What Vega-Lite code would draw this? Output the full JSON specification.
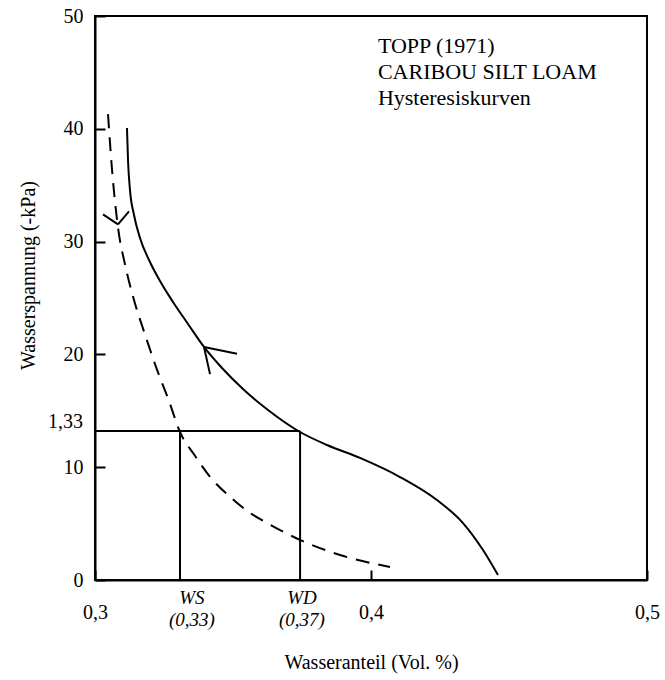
{
  "$schema": "https://vega.github.io/schema/vega-lite/v6.json",
  "autosize": {"type": "none"},
  "width": 552,
  "height": 564,
  "padding": {"left": 95, "top": 16, "right": 18, "bottom": 100},
  "background": "white",
  "config": {
    "view": {"stroke": "black", "strokeWidth": 2},
    "font": "Liberation Serif",
    "axis": {
      "domainColor": "black",
      "domainWidth": 2,
      "tickColor": "black",
      "tickWidth": 2,
      "tickSize": -10,
      "grid": false,
      "labelFont": "Liberation Serif",
      "labelFontSize": 20,
      "labelColor": "black",
      "titleFont": "Liberation Serif",
      "titleFontSize": 20,
      "titleFontWeight": "normal",
      "titleColor": "black",
      "labelFlush": false
    }
  },
  "datasets": {
    "solid": [
      {"x": 0.31159, "y": 40.07, "o": 1},
      {"x": 0.31196, "y": 37.23, "o": 2},
      {"x": 0.31268, "y": 34.57, "o": 3},
      {"x": 0.31413, "y": 32.36, "o": 4},
      {"x": 0.31630, "y": 30.32, "o": 5},
      {"x": 0.31957, "y": 28.37, "o": 6},
      {"x": 0.32355, "y": 26.51, "o": 7},
      {"x": 0.32826, "y": 24.65, "o": 8},
      {"x": 0.33370, "y": 22.70, "o": 9},
      {"x": 0.33949, "y": 20.66, "o": 10},
      {"x": 0.34601, "y": 18.79, "o": 11},
      {"x": 0.35362, "y": 16.93, "o": 12},
      {"x": 0.36268, "y": 15.07, "o": 13},
      {"x": 0.37428, "y": 13.12, "o": 14},
      {"x": 0.38406, "y": 11.97, "o": 15},
      {"x": 0.39601, "y": 10.82, "o": 16},
      {"x": 0.41051, "y": 9.13, "o": 17},
      {"x": 0.42391, "y": 7.09, "o": 18},
      {"x": 0.43333, "y": 5.05, "o": 19},
      {"x": 0.44058, "y": 2.66, "o": 20},
      {"x": 0.44601, "y": 0.44, "o": 21}
    ],
    "dashed": [
      {"x": 0.30471, "y": 41.30, "o": 1},
      {"x": 0.30616, "y": 36.41, "o": 2},
      {"x": 0.30833, "y": 31.26, "o": 3},
      {"x": 0.31087, "y": 27.98, "o": 4},
      {"x": 0.31377, "y": 25.13, "o": 5},
      {"x": 0.31812, "y": 21.76, "o": 6},
      {"x": 0.32246, "y": 18.65, "o": 7},
      {"x": 0.32681, "y": 15.87, "o": 8},
      {"x": 0.33080, "y": 13.12, "o": 9},
      {"x": 0.33623, "y": 11.01, "o": 10},
      {"x": 0.34167, "y": 9.15, "o": 11},
      {"x": 0.34891, "y": 7.37, "o": 12},
      {"x": 0.35616, "y": 5.95, "o": 13},
      {"x": 0.36232, "y": 5.06, "o": 14},
      {"x": 0.37428, "y": 3.55, "o": 15},
      {"x": 0.38877, "y": 2.22, "o": 16},
      {"x": 0.40688, "y": 1.15, "o": 17}
    ],
    "arrows": [
      {"seg": "a1", "x": 0.30833, "y": 31.53, "o": 1},
      {"seg": "a1", "x": 0.30290, "y": 32.41, "o": 2},
      {"seg": "a2", "x": 0.30833, "y": 31.53, "o": 1},
      {"seg": "a2", "x": 0.31232, "y": 32.68, "o": 2},
      {"seg": "b1", "x": 0.33949, "y": 20.66, "o": 1},
      {"seg": "b1", "x": 0.35145, "y": 20.05, "o": 2},
      {"seg": "b2", "x": 0.33949, "y": 20.66, "o": 1},
      {"seg": "b2", "x": 0.34167, "y": 18.25, "o": 2}
    ],
    "refs": [
      {"x": 0.3, "x2": 0.3743, "y": 13.2, "y2": 13.2},
      {"x": 0.3308, "x2": 0.3308, "y": 0, "y2": 13.2},
      {"x": 0.3743, "x2": 0.3743, "y": 0, "y2": 13.2}
    ],
    "notes": [
      {"x": 0.4025, "y": 46.7, "t": "TOPP (1971)"},
      {"x": 0.4025, "y": 44.4, "t": "CARIBOU SILT LOAM"},
      {"x": 0.4025, "y": 42.1, "t": "Hysteresiskurven"}
    ],
    "xlabels": [
      {"x": 0.3351, "y": -1.6, "t": "WS"},
      {"x": 0.3351, "y": -3.55, "t": "(0,33)"},
      {"x": 0.3750, "y": -1.6, "t": "WD"},
      {"x": 0.3750, "y": -3.55, "t": "(0,37)"}
    ],
    "ylabels": [
      {"x": 0.3, "y": 13.2, "t": "1,33"}
    ]
  },
  "encoding": {
    "x": {
      "field": "x",
      "type": "quantitative",
      "scale": {"domain": [0.3, 0.5], "nice": false, "zero": false},
      "axis": {
        "values": [0.3, 0.4, 0.5],
        "labelExpr": "replace(format(datum.value, '.1f'), '.', ',')",
        "labelPadding": 32,
        "title": "Wasseranteil (Vol. %)",
        "titleBaseline": "alphabetic",
        "titleY": 88
      }
    },
    "y": {
      "field": "y",
      "type": "quantitative",
      "scale": {"domain": [0, 50], "nice": false},
      "axis": {
        "values": [0, 10, 20, 30, 40, 50],
        "labelPadding": 22,
        "title": "Wasserspannung (-kPa)",
        "titleBaseline": "middle",
        "titleX": -67,
        "titleY": 259
      }
    }
  },
  "layer": [
    {
      "data": {"name": "refs"},
      "mark": {"type": "rule", "color": "black", "strokeWidth": 2},
      "encoding": {"x2": {"field": "x2"}, "y2": {"field": "y2"}}
    },
    {
      "data": {"name": "solid"},
      "mark": {"type": "line", "color": "black", "strokeWidth": 2, "interpolate": "monotone"},
      "encoding": {"order": {"field": "o", "type": "quantitative"}}
    },
    {
      "data": {"name": "dashed"},
      "mark": {"type": "line", "color": "black", "strokeWidth": 2, "interpolate": "monotone", "strokeDash": [14, 9]},
      "encoding": {"order": {"field": "o", "type": "quantitative"}}
    },
    {
      "data": {"name": "arrows"},
      "mark": {"type": "line", "color": "black", "strokeWidth": 2},
      "encoding": {
        "detail": {"field": "seg", "type": "nominal"},
        "order": {"field": "o", "type": "quantitative"}
      }
    },
    {
      "data": {"name": "notes"},
      "mark": {"type": "text", "align": "left", "baseline": "alphabetic", "fontSize": 22, "font": "Liberation Serif", "color": "black"},
      "encoding": {"text": {"field": "t"}}
    },
    {
      "data": {"name": "xlabels"},
      "mark": {"type": "text", "align": "center", "baseline": "middle", "fontSize": 19, "fontStyle": "italic", "font": "Liberation Serif", "color": "black"},
      "encoding": {"text": {"field": "t"}}
    },
    {
      "data": {"name": "ylabels"},
      "mark": {"type": "text", "align": "right", "baseline": "middle", "dx": -12, "dy": -9, "fontSize": 20, "font": "Liberation Serif", "color": "black"},
      "encoding": {"text": {"field": "t"}}
    }
  ]
}
